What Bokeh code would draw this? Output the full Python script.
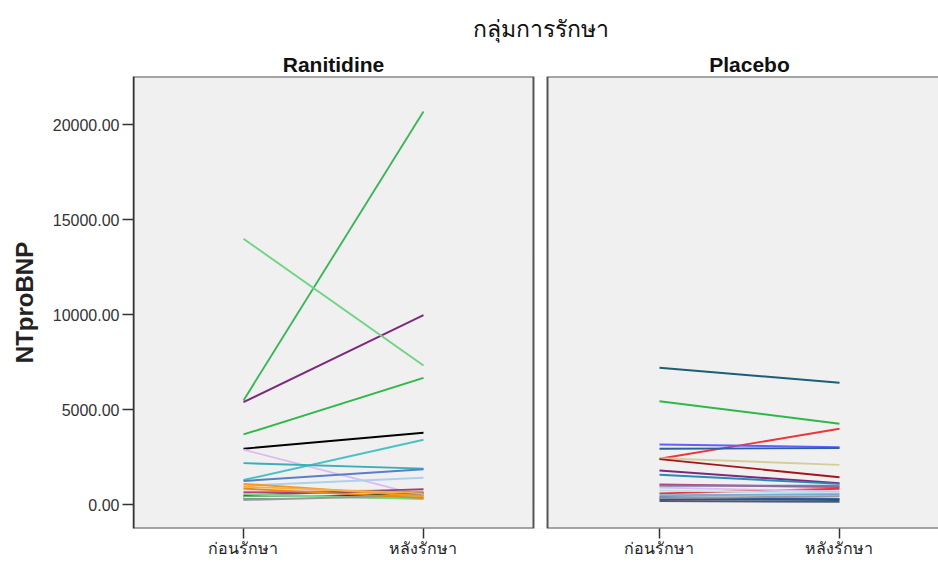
from bokeh.plotting import figure
from bokeh.layouts import column
from bokeh.models import (Range1d, FixedTicker, PrintfTickFormatter, Label,
                          ColumnDataSource)
from bokeh.embed import file_html
from bokeh.resources import INLINE

# ---- data -----------------------------------------------------------------
categories = ["ก่อนรักษา", "หลังรักษา"]
groups = ["Ranitidine", "Placebo"]

ranitidine_before = [5490, 5400, 14000, 3700, 2950, 2900, 1300, 2190, 1250,
                     1000, 700, 650, 500, 420, 330, 380, 560, 250,
                     1100, 950, 850]
ranitidine_after = [20700, 9980, 7330, 6680, 3790, 450, 3420, 1900, 1870,
                    1420, 760, 650, 820, 380, 600, 420, 300, 500,
                    450, 600, 350]
ranitidine_colors = ["#3DB55A", "#7C287D", "#70D484", "#2EB848", "#000000",
                     "#DDBAF1", "#48C2C5", "#3AAFB9", "#5A7EC8", "#ACD0EE",
                     "#EBB5C5", "#BB3F7F", "#8B4C6A", "#0A562C", "#1A3F2F",
                     "#CCFFCC", "#70DC84", "#999999",
                     "#F8981D", "#F5B041", "#E08A1A"]

placebo_before = [7210, 5450, 2420, 3170, 2950, 2450, 2400, 1800, 1580, 1070,
                  1000, 600, 900, 400, 300, 200, 750, 350, 500]
placebo_after = [6420, 4260, 4000, 3030, 2980, 2100, 1450, 1130, 1100, 930,
                 1000, 840, 700, 300, 250, 150, 600, 450, 550]
placebo_colors = ["#1A5F76", "#2EB848", "#EF3338", "#5D61FF", "#2F5E9E",
                  "#D3CE97", "#A21619", "#7C287D", "#278BB8", "#BB3F7F",
                  "#797AA7", "#EF3338", "#DDBAF1", "#3E58AC", "#1A5F76",
                  "#555577", "#B6E7E8", "#999999", "#7AAAD5"]

y_ticks = [0, 5000, 10000, 15000, 20000]

# ---- layout constants (x positions of the category ticks per panel) -------
panel_offset = 2.311      # x position of the first category in panel 2
pad = 0.611               # empty space left/right of the categories
gap = 0.078               # white gutter between panels
x_lo, x_hi = -pad, panel_offset + 1 + 0.55

FONT = "Liberation Sans"

# ---- header strip carrying the titles ------------------------------------
head = figure(width=938, height=76, output_backend="svg", toolbar_location=None,
              x_range=Range1d(x_lo, x_hi), y_range=Range1d(0, 76),
              min_border_left=133, min_border_right=0,
              min_border_top=0, min_border_bottom=0)
head.axis.visible = False
head.grid.visible = False
head.outline_line_color = None
head.background_fill_color = "white"
head.border_fill_color = "white"

for name, cx in zip(groups, [0.5, panel_offset + 0.5]):
    head.add_layout(Label(x=cx, y=12, text=name, text_align="center",
                          text_baseline="middle", text_font=FONT,
                          text_font_style="bold", text_font_size="21px",
                          text_color="#111111"))

head.add_layout(Label(x=1.65, y=48, text="กลุ่มการรักษา", text_align="center",
                      text_baseline="middle", text_font=FONT,
                      text_font_size="23px", text_color="#111111"))

# ---- main plot --------------------------------------------------------------
p = figure(width=938, height=488, output_backend="svg", toolbar_location=None,
           x_range=Range1d(x_lo, x_hi), y_range=Range1d(-1250, 22540),
           min_border_left=133, min_border_right=0,
           min_border_top=0, min_border_bottom=36)

p.background_fill_color = "#F0F0F0"
p.border_fill_color = "white"
p.outline_line_color = None
p.xgrid.visible = False
p.ygrid.visible = False

# white gutter between the two panels
p.quad(left=[1 + pad], right=[1 + pad + gap], bottom=[-1250], top=[22540],
       fill_color="white", line_color=None)

# panel frames
p.quad(left=[-pad, 1 + pad + gap], right=[1 + pad, panel_offset + 3],
       bottom=[-1250, -1250], top=[22540, 22540],
       fill_color=None, line_color="#555555", line_width=2)

# subject lines: before -> after
src_r = ColumnDataSource(dict(
    xs=[[0, 1] for _ in ranitidine_before],
    ys=[[b, a] for b, a in zip(ranitidine_before, ranitidine_after)],
    color=ranitidine_colors))
src_p = ColumnDataSource(dict(
    xs=[[panel_offset, panel_offset + 1] for _ in placebo_before],
    ys=[[b, a] for b, a in zip(placebo_before, placebo_after)],
    color=placebo_colors))
p.multi_line(xs="xs", ys="ys", line_color="color", line_width=1.9, source=src_r)
p.multi_line(xs="xs", ys="ys", line_color="color", line_width=1.9, source=src_p)

# ---- axes -----------------------------------------------------------------
xa = p.xaxis[0]
xa.ticker = FixedTicker(ticks=[0, 1, panel_offset, panel_offset + 1])
xa.major_label_overrides = {0: categories[0], 1: categories[1],
                            panel_offset: categories[0],
                            panel_offset + 1: categories[1]}
xa.axis_line_color = None
xa.major_tick_out = 10
xa.major_tick_in = 0
xa.major_tick_line_color = "#333333"
xa.major_tick_line_width = 1.5
xa.minor_tick_line_color = None
xa.major_label_text_font = FONT
xa.major_label_text_font_size = "16px"
xa.major_label_text_color = "#222222"
xa.major_label_standoff = 1

ya = p.yaxis[0]
ya.ticker = FixedTicker(ticks=y_ticks)
ya.formatter = PrintfTickFormatter(format="%.2f")
ya.axis_line_color = "#333333"
ya.axis_line_width = 1.5
ya.major_tick_out = 11
ya.major_tick_in = 0
ya.major_tick_line_color = "#333333"
ya.major_tick_line_width = 1.5
ya.minor_tick_line_color = None
ya.major_label_text_font = FONT
ya.major_label_text_font_size = "16px"
ya.major_label_text_color = "#333333"
ya.major_label_standoff = 3
ya.axis_label = "NTproBNP"
ya.axis_label_text_font = FONT
ya.axis_label_text_font_style = "bold"
ya.axis_label_text_font_size = "24px"
ya.axis_label_text_color = "#222222"
ya.axis_label_standoff = 12

layout = column(head, p, spacing=0)
open("out.html", "w").write(file_html(layout, INLINE))
